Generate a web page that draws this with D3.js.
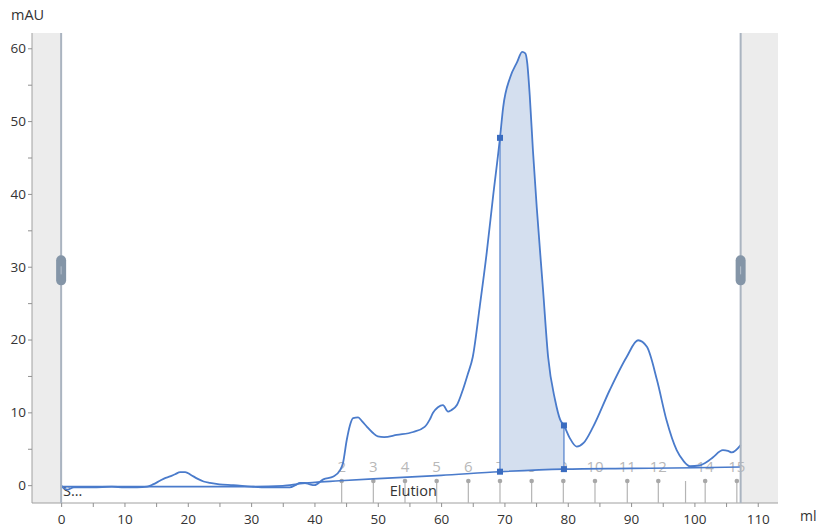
<!DOCTYPE html>
<html>
<head>
<meta charset="utf-8">
<script src="https://cdn.jsdelivr.net/npm/d3@7"></script>
<style>
  body { margin: 0; background: #fff; }
  text { font-family: "Open Sans", "Noto Sans", sans-serif; }
</style>
</head>
<body>
<svg id="chart" width="818" height="527"></svg>
<script>
// UV trace, ml vs mAU
var uvMl = [0, 0.5, 1, 2, 5, 8, 10, 12, 13.6, 14.5, 15.6, 16.5, 17.2, 18, 18.8, 19.6, 20.5, 21.5, 22.5, 23.5,
  25, 27.2, 30, 32.5, 36.1, 37, 37.7, 38.5, 39.3, 40, 41.4, 43, 44, 44.5, 45.1, 45.6, 46.1, 46.9, 47.5, 48.3,
  49.2, 50, 51, 53, 55.6, 57.4, 58.2, 58.7, 59.5, 60.3, 61.1, 61.6, 62.5, 63.4, 64.2, 65, 66.1, 67.2, 68.2, 69.3,
  69.8, 70.9, 72, 72.8, 73.3, 73.6, 74.0, 74.5, 75.1, 76.1, 76.9, 78, 78.8, 79.4, 80.3, 81.4, 82.5, 84, 86.6, 89.3, 91.1,
  92.5, 94.1, 95.6, 97.2, 98.3, 99.3, 100.8, 102, 102.9, 104.5, 105.3, 105.9, 107.3];
var uvMau = [0, -0.5, -0.6, -0.3, -0.3, -0.2, -0.3, -0.3, -0.2, 0.1, 0.6, 1.0, 1.2, 1.5, 1.8, 1.8, 1.4, 0.9, 0.5, 0.3,
  0.1, 0.0, -0.2, -0.3, -0.3, 0.0, 0.3, 0.3, 0.1, 0.0, 0.8, 1.2, 2.0, 3.0, 6.2, 8.2, 9.2, 9.3, 8.8, 8.0,
  7.2, 6.7, 6.6, 6.9, 7.3, 8.0, 9.0, 9.9, 10.7, 11.0, 10.1, 10.3, 11.0, 13.0, 15.2, 17.6, 24.5, 31.9, 39.6, 47.7,
  51.9, 56.0, 58.1, 59.5, 59.3, 58.0, 53.5, 46.0, 38.2, 26.8, 17.6, 11.7, 9.0, 8.2, 6.5, 5.3, 5.8, 8.0, 13.0, 17.6, 19.9,
  19.0, 14.4, 8.9, 4.8, 3.3, 2.6, 2.7, 3.2, 3.8, 4.8, 4.7, 4.5, 5.5];

// peak baseline
var baseMl = [0, 10, 20, 30, 35, 37.7, 44, 50, 60, 69.3, 79.4, 90, 100, 107.3];
var baseMau = [-0.2, -0.2, -0.2, -0.2, -0.1, 0.2, 0.6, 0.9, 1.35, 1.85, 2.2, 2.3, 2.4, 2.5];

// selected peak limits
var peakStart = 69.3, peakEnd = 79.4;
var peakStartTop = 47.7, peakEndTop = 8.2;

// fractions
var fracMl = [44.3, 49.3, 54.3, 59.3, 64.3, 69.3, 74.3, 79.3, 84.3, 89.4, 94.3, 98.6, 101.7, 106.7];
var fracLabels = ['2', '3', '4', '5', '6', '7', '8', '9', '10', '11', '12', '', '14', '15'];

// run window
var runStart = 0, runEnd = 107.3;

var xTicks = d3.range(0, 111, 5);
var yTicks = d3.range(0, 61, 5);

(function() {
  var svg = d3.select('#chart');
  var pLeft = 32, pRight = 778, pTop = 33, pBottom = 503;

  var x = d3.scaleLinear().domain([-4.6, 113.2]).range([pLeft, pRight]);
  var y = d3.scaleLinear().domain([-2.45, 62.1]).range([pBottom, pTop]);

  var uv = uvMl.map(function(d, i) { return { ml: d, v: uvMau[i] }; });
  var base = baseMl.map(function(d, i) { return { ml: d, v: baseMau[i] }; });

  function baseAt(ml) {
    for (var i = 1; i < base.length; i++) {
      if (ml <= base[i].ml) {
        var a = base[i - 1], b = base[i];
        return a.v + (b.v - a.v) * (ml - a.ml) / (b.ml - a.ml);
      }
    }
    return base[base.length - 1].v;
  }

  // grey areas outside the run
  svg.append('rect')
    .attr('x', pLeft).attr('y', pTop)
    .attr('width', x(runStart) - pLeft).attr('height', pBottom - pTop)
    .attr('fill', '#ececec');
  svg.append('rect')
    .attr('x', x(runEnd)).attr('y', pTop)
    .attr('width', pRight - x(runEnd)).attr('height', pBottom - pTop)
    .attr('fill', '#ececec');

  // axes
  var xAxis = svg.append('g')
    .attr('transform', 'translate(0,' + pBottom + ')')
    .call(d3.axisBottom(x).tickValues(xTicks).tickSize(4).tickSizeOuter(0)
      .tickFormat(function(d) { return d % 10 === 0 ? d : ''; }));
  xAxis.select('.domain').attr('stroke', '#a0a0a0').attr('d', 'M' + pLeft + ',0H' + pRight);
  xAxis.selectAll('.tick line').attr('stroke', '#909090');
  xAxis.selectAll('.tick text').attr('fill', '#333').attr('font-size', 13.5).attr('dy', '1.05em');

  var yAxis = svg.append('g')
    .attr('transform', 'translate(' + pLeft + ',0)')
    .call(d3.axisLeft(y).tickValues(yTicks).tickSize(4).tickSizeOuter(0)
      .tickFormat(function(d) { return d % 10 === 0 ? d : ''; }));
  yAxis.select('.domain').attr('stroke', '#a0a0a0').attr('d', 'M0,' + pTop + 'V' + pBottom);
  yAxis.selectAll('.tick line').attr('stroke', '#909090');
  yAxis.selectAll('.tick text').attr('fill', '#333').attr('font-size', 13.5).attr('x', -6);

  svg.append('text').attr('x', 11).attr('y', 20).attr('font-size', 14.5).attr('fill', '#333').text('mAU');
  svg.append('text').attr('x', 800).attr('y', 521).attr('font-size', 14).attr('fill', '#333').text('ml');

  // fractions
  var frac = svg.append('g');
  fracMl.forEach(function(m, i) {
    frac.append('line')
      .attr('x1', x(m)).attr('x2', x(m))
      .attr('y1', 481).attr('y2', pBottom)
      .attr('stroke', '#b4b4b4').attr('stroke-width', 1.2);
    if (fracLabels[i] !== '') {
      frac.append('circle').attr('cx', x(m)).attr('cy', 481).attr('r', 2.3).attr('fill', '#a8a8a8');
      frac.append('text')
        .attr('x', x(m)).attr('y', 472)
        .attr('text-anchor', 'middle').attr('font-size', 15)
        .attr('fill', '#b8b8b8').text(fracLabels[i]);
    }
  });

  // phase labels
  svg.append('text').attr('x', x(0.3)).attr('y', 496).attr('font-size', 14.5).attr('fill', '#333').text('S...');
  svg.append('text').attr('x', x(51.9)).attr('y', 496).attr('font-size', 14.5).attr('fill', '#333').text('Elution');

  // injection mark
  svg.append('line')
    .attr('x1', x(0)).attr('x2', x(0)).attr('y1', 452).attr('y2', 488)
    .attr('stroke', '#9fb8de').attr('stroke-width', 1);

  // peak area
  var clip = svg.append('clipPath').attr('id', 'peakclip');
  clip.append('rect')
    .attr('x', x(peakStart)).attr('y', pTop)
    .attr('width', x(peakEnd) - x(peakStart)).attr('height', pBottom - pTop);

  var area = d3.area()
    .x(function(d) { return x(d.ml); })
    .y0(function(d) { return y(baseAt(d.ml)); })
    .y1(function(d) { return y(d.v); })
    .curve(d3.curveMonotoneX);

  svg.append('path')
    .datum(uv)
    .attr('clip-path', 'url(#peakclip)')
    .attr('d', area)
    .attr('fill', '#d4dfef');

  var blue = '#4a7bcb';

  [[peakStart, peakStartTop], [peakEnd, peakEndTop]].forEach(function(p) {
    svg.append('line')
      .attr('x1', x(p[0])).attr('x2', x(p[0]))
      .attr('y1', y(p[1])).attr('y2', y(baseAt(p[0])))
      .attr('stroke', '#5b87cf').attr('stroke-width', 1.3);
  });

  // baseline
  var line = d3.line()
    .x(function(d) { return x(d.ml); })
    .y(function(d) { return y(d.v); })
    .curve(d3.curveMonotoneX);

  svg.append('path').datum(base).attr('d', line)
    .attr('fill', 'none').attr('stroke', blue).attr('stroke-width', 1.6);

  // UV curve
  svg.append('path').datum(uv).attr('d', line)
    .attr('fill', 'none').attr('stroke', blue).attr('stroke-width', 1.8);

  // peak markers
  [[peakStart, peakStartTop], [peakEnd, peakEndTop], [peakStart, baseAt(peakStart)], [peakEnd, baseAt(peakEnd)]].forEach(function(p) {
    svg.append('rect')
      .attr('x', x(p[0]) - 3).attr('y', y(p[1]) - 3)
      .attr('width', 6).attr('height', 6)
      .attr('fill', '#3a6cc0');
  });

  // run window lines with handles
  [runStart, runEnd].forEach(function(m) {
    svg.append('line')
      .attr('x1', x(m)).attr('x2', x(m)).attr('y1', pTop).attr('y2', pBottom)
      .attr('stroke', '#aab4c0').attr('stroke-width', 2);
    svg.append('rect')
      .attr('x', x(m) - 5).attr('y', y(29.5) - 15)
      .attr('width', 10).attr('height', 30).attr('rx', 5)
      .attr('fill', '#8495a7');
    svg.append('line')
      .attr('x1', x(m)).attr('x2', x(m)).attr('y1', y(29.5) - 4).attr('y2', y(29.5) + 4)
      .attr('stroke', '#b5c0cc').attr('stroke-width', 1);
  });
})();
</script>
</body>
</html>
